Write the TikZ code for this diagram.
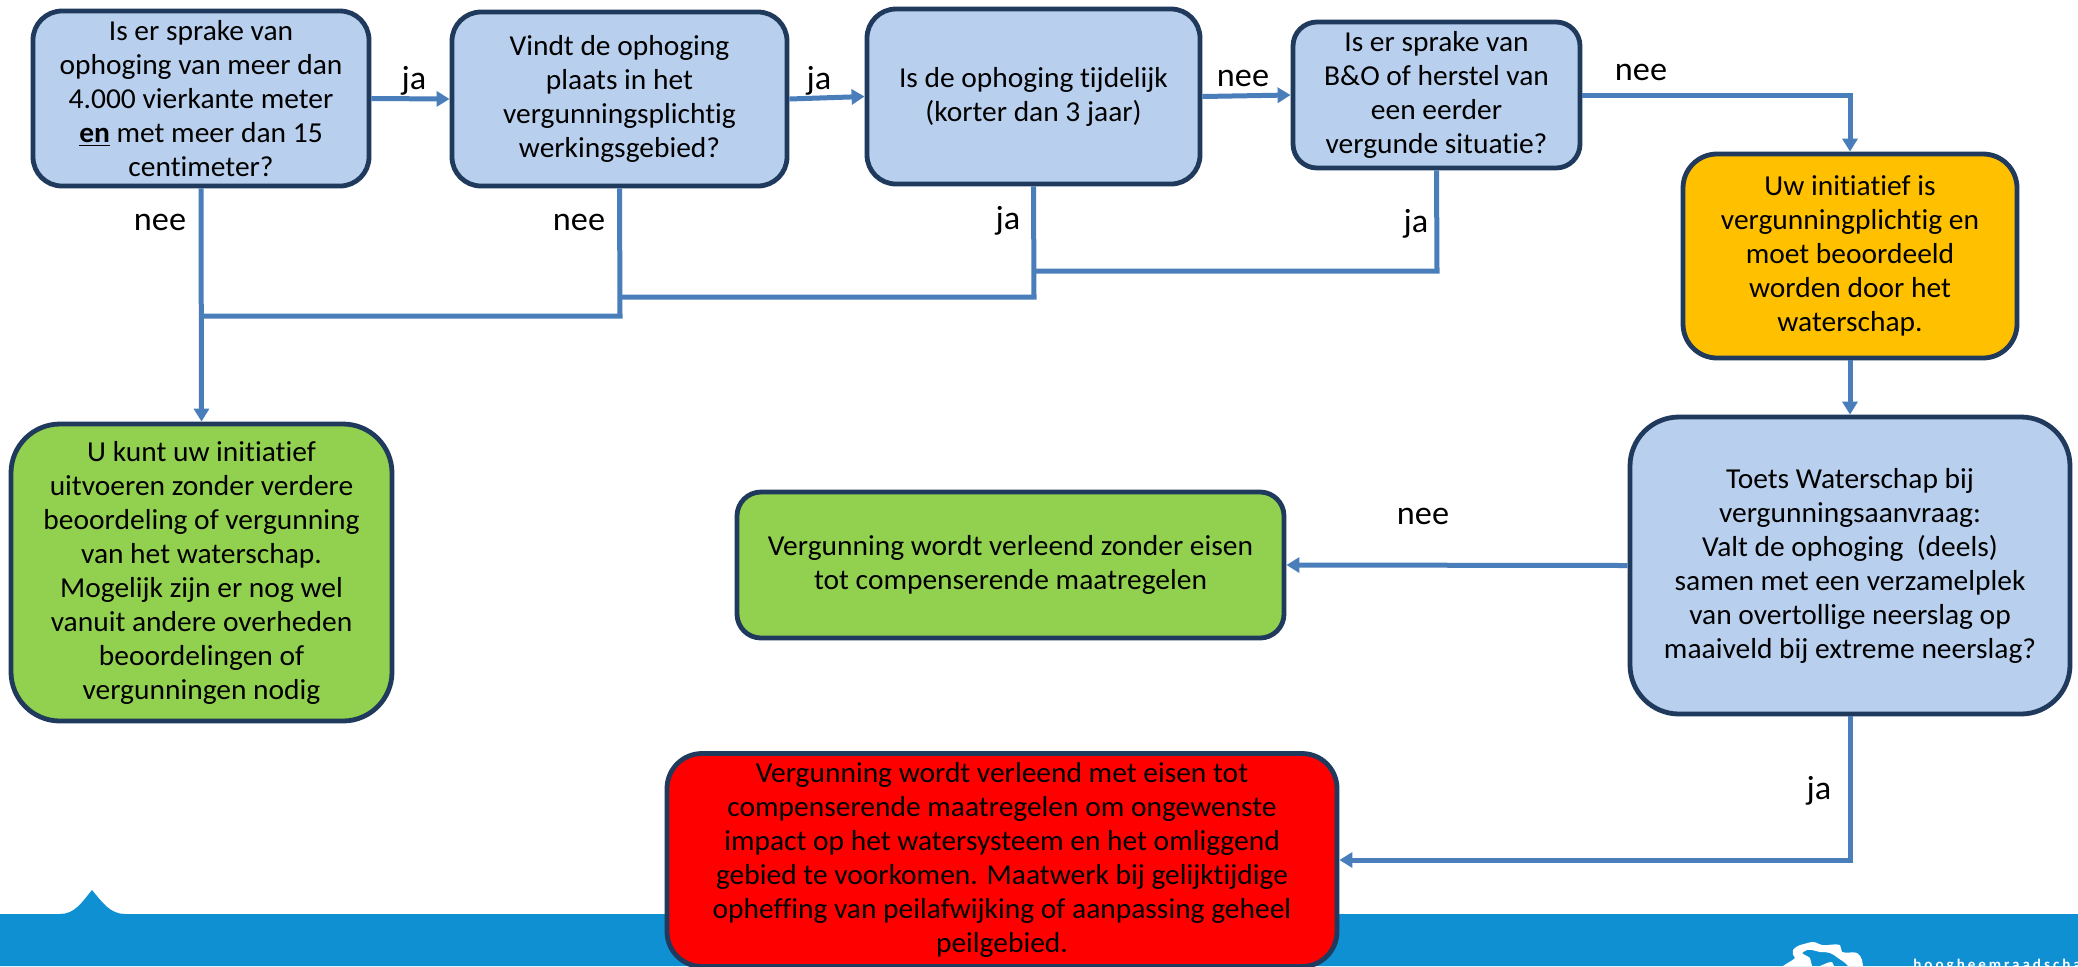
\documentclass[tikz,border=0pt]{standalone}
\usepackage{fontspec}
\setmainfont[RawFeature={-liga;-clig},FakeStretch=1.02]{Carlito}
\usetikzlibrary{arrows.meta}
\definecolor{boxline}{HTML}{1F3A5C}
\definecolor{bluefill}{HTML}{B8CFED}
\definecolor{greenfill}{HTML}{92D050}
\definecolor{yellowfill}{HTML}{FFC000}
\definecolor{link}{HTML}{4A7EBB}
\definecolor{band}{HTML}{0E90D2}
\tikzset{
  x=0.5pt,y=-0.5pt,
  flowbox/.style={draw=boxline,line width=2.4pt,align=center,inner sep=0pt,
    font=\fontsize{14.45}{17}\selectfont,text=black},
  lbl/.style={font=\fontsize{16.8}{20}\selectfont,text=black,inner sep=0pt},
  linkline/.style={draw=link,line width=2.5pt},
  linkarrow/.style={linkline,-{Triangle[length=6.5pt,width=7.5pt]}}
}
\begin{document}
\begin{tikzpicture}
\clip (0,0) rectangle (2078,966);
\fill[white] (0,0) rectangle (2078,966);
% band
\fill[band] (0,966) -- (0,914) -- (60,914) .. controls (75,914) and (82,902) .. (92,890)
  .. controls (102,902) and (110,914) .. (125,914) -- (2078,914) -- (2078,966) -- cycle;
% logo
\fill[white] (1793,950) .. controls (1795,947) and (1798,946) .. (1800,945)
  .. controls (1805,944) and (1809,942) .. (1813,942)
  .. controls (1817,942) and (1819,945) .. (1822,945)
  .. controls (1828,946) and (1835,943) .. (1840,945)
  .. controls (1842,947) and (1840,950) .. (1842,952)
  .. controls (1847,954) and (1853,951) .. (1857,953)
  .. controls (1860,955) and (1861,957) .. (1862,960)
  -- (1863,966) -- (1848,966)
  .. controls (1845,962) and (1842,961) .. (1838,958)
  .. controls (1835,956) and (1833,954) .. (1830,953)
  .. controls (1826,952) and (1823,952) .. (1820,952)
  .. controls (1815,951) and (1811,949) .. (1807,950)
  .. controls (1805,951) and (1803,952) .. (1802,953)
  .. controls (1804,955) and (1808,956) .. (1810,958)
  -- (1812,966) -- (1783,966)
  .. controls (1787,963) and (1792,961) .. (1795,958)
  .. controls (1793,956) and (1792,953) .. (1793,950) -- cycle;
\fill[white] (1820,966) .. controls (1825,964) and (1828,962) .. (1832,962) -- (1834,966) -- cycle;
\node[anchor=base west,inner sep=0pt,font=\bfseries\fontsize{7.4}{8}\selectfont\addfontfeature{LetterSpace=20},text=white] (org) at (1913,969) {hoogheemraadschap};
% boxes
\node[flowbox,fill=bluefill,rounded corners=14.5pt,minimum width=168pt,minimum height=87.5pt] (b1) at (201,98.5)
  {Is er sprake van\\ophoging van meer dan\\4.000 vierkante meter\\\textbf{\underline{en}} met meer dan 15\\centimeter?};
\node[flowbox,fill=bluefill,rounded corners=14.5pt,minimum width=167.5pt,minimum height=87pt] (b2) at (619.5,99)
  {Vindt de ophoging\\plaats in het\\vergunningsplichtig\\werkingsgebied?};
\node[flowbox,fill=bluefill,rounded corners=14.5pt,minimum width=166.5pt,minimum height=87.5pt] (b3) at (1033.5,96.5)
  {Is de ophoging tijdelijk\\(korter dan 3 jaar)};
\node[flowbox,fill=bluefill,rounded corners=12pt,minimum width=143.5pt,minimum height=73pt] (b4) at (1436.5,95)
  {Is er sprake van\\B\&O of herstel van\\een eerder\\vergunde situatie?};
\node[flowbox,fill=yellowfill,rounded corners=17pt,minimum width=167pt,minimum height=102pt] (b5) at (1850,256)
  {Uw initiatief is\\vergunningplichtig en\\moet beoordeeld\\worden door het\\waterschap.};
\node[flowbox,fill=bluefill,rounded corners=24.5pt,minimum width=220pt,minimum height=148.5pt] (b6) at (1850,565.5)
  {Toets Waterschap bij\\vergunningsaanvraag:\\Valt de ophoging~ (deels)\\samen met een verzamelplek\\van overtollige neerslag op\\maaiveld bij extreme neerslag?};
\node[flowbox,fill=greenfill,rounded corners=24.5pt,minimum width=190.5pt,minimum height=148.5pt] (g1) at (201.5,572.5)
  {U kunt uw initiatief\\uitvoeren zonder verdere\\beoordeling of vergunning\\van het waterschap.\\Mogelijk zijn er nog wel\\vanuit andere overheden\\beoordelingen of\\vergunningen nodig};
\node[flowbox,fill=greenfill,rounded corners=12pt,minimum width=273.5pt,minimum height=73pt] (g2) at (1010.5,565)
  {Vergunning wordt verleend zonder eisen\\tot compenserende maatregelen};
\node[flowbox,fill=red,rounded corners=17.5pt,minimum width=335pt,minimum height=106.5pt] (r) at (1002,860)
  {Vergunning wordt verleend met eisen tot\\compenserende maatregelen om ongewenste\\impact op het watersysteem en het omliggend\\gebied te voorkomen. Maatwerk bij gelijktijdige\\opheffing van peilafwijking of aanpassing geheel\\peilgebied.};
% junctions
\coordinate (j1) at (201,316);
\coordinate (j2) at (620,316);
\coordinate (j3) at (620,297);
\coordinate (j4) at (1034,297);
\coordinate (j5) at (1034,271);
\coordinate (j6) at (1437,271);
% connectors
\draw[linkarrow] (b1.east) -- (b2.west);
\draw[linkarrow] (b2.east) -- (b3.west);
\draw[linkarrow] (b3.east) -- (b4.west);
\draw[linkarrow] (b4.east) -| (b5.north);
\draw[linkarrow] (b5.south) -- (b6.north);
\draw[linkarrow] (b6.west) -- (g2.east);
\draw[linkarrow] (b6.south) |- (r.east);
\draw[linkarrow] (b1.south) -- (g1.north);
\draw[linkline] (b2.south) -- (j2) -- (j1);
\draw[linkline] (b3.south) -- (j4) -- (j3);
\draw[linkline] (b4.south) -- (j6) -- (j5);
% labels
\node[lbl] (l1) at (414,81) {ja};
\node[lbl] (l2) at (819,81) {ja};
\node[lbl] (l3) at (1243,78) {nee};
\node[lbl] (l4) at (1641,72) {nee};
\node[lbl] (l5) at (160,222) {nee};
\node[lbl] (l6) at (579,222) {nee};
\node[lbl] (l7) at (1008,221) {ja};
\node[lbl] (l8) at (1416,224) {ja};
\node[lbl] (l9) at (1423,516) {nee};
\node[lbl] (l10) at (1819,791) {ja};
\end{tikzpicture}
\end{document}
